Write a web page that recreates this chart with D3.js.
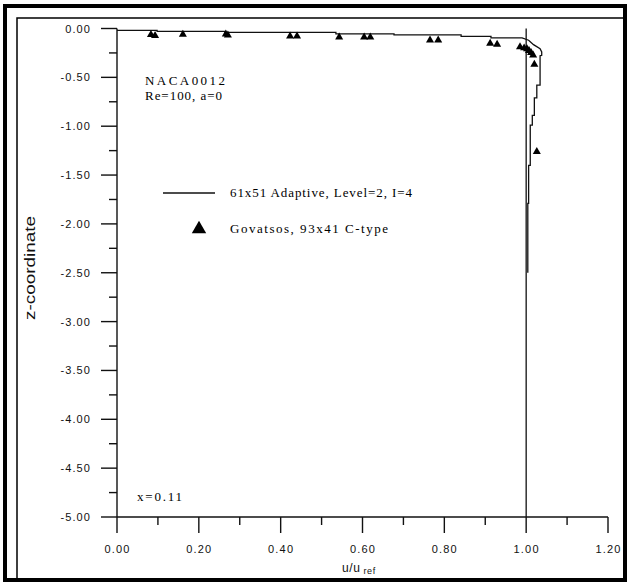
<!DOCTYPE html>
<html>
<head>
<meta charset="utf-8">
<script src="https://cdn.jsdelivr.net/npm/d3@7"></script>
<style>
  html, body { margin: 0; padding: 0; background: #fff; }
  svg { display: block; }
</style>
</head>
<body>
<svg id="chart" width="631" height="586"></svg>
<script>
// ---- data ----
const xTicks = [0, 0.2, 0.4, 0.6, 0.8, 1.0, 1.2];
const xTickLabels = ["0.00", "0.20", "0.40", "0.60", "0.80", "1.00", "1.20"];
const yTicks = [0, -0.5, -1, -1.5, -2, -2.5, -3, -3.5, -4, -4.5, -5];
const yTickLabels = ["0.00", "-0.50", "-1.00", "-1.50", "-2.00", "-2.50", "-3.00", "-3.50", "-4.00", "-4.50", "-5.00"];

// 61x51 Adaptive, Level=2, I=4 (u, z)
const adaptiveU = [0.000, 0.098, 0.098, 0.264, 0.264, 0.535, 0.535, 0.677, 0.677, 0.841, 0.841, 0.914, 0.914, 0.990,
                   1.006, 1.018, 1.034, 1.038, 1.038, 1.034, 1.034, 1.026, 1.026, 1.020, 1.020, 1.015, 1.015, 1.010, 1.010, 1.006, 1.006, 1.004, 1.004];
const adaptiveZ = [-0.020, -0.020, -0.030, -0.030, -0.040, -0.040, -0.055, -0.055, -0.065, -0.065, -0.080, -0.080, -0.095, -0.095,
                   -0.120, -0.165, -0.207, -0.240, -0.275, -0.280, -0.580, -0.580, -0.710, -0.710, -0.890, -0.890, -0.990, -0.990, -1.400, -1.400, -1.790, -1.790, -2.500];

// Govatsos, 93x41 C-type (u, z)
const govU = [0.083, 0.093, 0.161, 0.266, 0.271, 0.423, 0.440, 0.543, 0.604, 0.619, 0.765, 0.785, 0.912, 0.929,
              0.985, 0.995, 1.002, 1.007, 1.012, 1.017, 1.020, 1.026];
const govZ = [-0.063, -0.073, -0.061, -0.058, -0.068, -0.079, -0.079, -0.089, -0.089, -0.089, -0.119, -0.119, -0.153, -0.163,
              -0.188, -0.200, -0.210, -0.227, -0.247, -0.272, -0.367, -1.260];

// reference line u = 1
const refU = [1.0, 1.0];
const refZ = [0.0, -5.0];

// ---- layout ----
const svg = d3.select("#chart");
const x = d3.scaleLinear().domain([0, 1.2]).range([117, 608]);
const y = d3.scaleLinear().domain([0, -5]).range([28.5, 517]);

// frames
svg.append("rect").attr("x", 5).attr("y", 6).attr("width", 620).attr("height", 574)
  .attr("fill", "none").attr("stroke", "#000").attr("stroke-width", 4);
svg.append("path").attr("d", "M17,580 V18 H625")
  .attr("fill", "none").attr("stroke", "#000").attr("stroke-width", 1.5);

const tickFont = "'Liberation Sans', Arial, sans-serif";
const serif = "'Liberation Serif', 'Times New Roman', serif";

// x axis
const xMinor = d3.range(0, 13).map(i => i * 0.1);
const xAxis = svg.append("g").attr("transform", `translate(0,${y(-5)})`);
xAxis.append("line").attr("x1", x(0)).attr("x2", x(1.2)).attr("stroke", "#111").attr("stroke-width", 1.4);
xAxis.selectAll("line.tk").data(xMinor).join("line").attr("class", "tk")
  .attr("x1", d => x(d)).attr("x2", d => x(d))
  .attr("y1", 0).attr("y2", (d, i) => i % 2 === 0 ? 16 : 8)
  .attr("stroke", "#111").attr("stroke-width", 1.4);
xAxis.selectAll("text").data(xTicks).join("text")
  .attr("x", d => x(d) + 0.5).attr("y", 36)
  .attr("text-anchor", "middle")
  .attr("font-family", tickFont).attr("font-size", 11).attr("fill", "#111")
  .attr("letter-spacing", 1.2)
  .text((d, i) => xTickLabels[i]);

// y axis
const yMinor = d3.range(0, 21).map(i => -i * 0.25);
const yAxis = svg.append("g").attr("transform", `translate(${x(0)},0)`);
yAxis.append("line").attr("y1", y(0)).attr("y2", y(-5)).attr("stroke", "#111").attr("stroke-width", 1.4);
yAxis.selectAll("line.tk").data(yMinor).join("line").attr("class", "tk")
  .attr("y1", d => y(d)).attr("y2", d => y(d))
  .attr("x1", 0).attr("x2", (d, i) => i % 2 === 0 ? -16 : -8)
  .attr("stroke", "#111").attr("stroke-width", 1.4);
yAxis.selectAll("text").data(yTicks).join("text")
  .attr("x", -26).attr("y", d => y(d) + 4)
  .attr("text-anchor", "end")
  .attr("font-family", tickFont).attr("font-size", 11).attr("fill", "#111")
  .attr("letter-spacing", 1.1)
  .text((d, i) => yTickLabels[i]);

// axis titles
const xt = svg.append("text").attr("x", 342).attr("y", 572)
  .attr("font-family", tickFont).attr("font-size", 12).attr("fill", "#111")
  .attr("letter-spacing", 0.6);
xt.append("tspan").text("u/u");
xt.append("tspan").attr("font-size", 9).attr("dx", 3).attr("dy", 2).text("ref");

svg.append("text").attr("transform", "translate(35,268) rotate(-90)")
  .attr("text-anchor", "middle")
  .attr("font-family", tickFont).attr("font-size", 14).attr("fill", "#111")
  .attr("textLength", 104).attr("lengthAdjust", "spacingAndGlyphs")
  .text("z-coordinate");

// reference line
const line = d3.line().x(d => x(d[0])).y(d => y(d[1]));
svg.append("path").datum(refU.map((u, i) => [u, refZ[i]]))
  .attr("d", line).attr("fill", "none").attr("stroke", "#111").attr("stroke-width", 1.3);

// adaptive line
svg.append("path").datum(adaptiveU.map((u, i) => [u, adaptiveZ[i]]))
  .attr("d", line).attr("fill", "none").attr("stroke", "#111").attr("stroke-width", 1.3);

// triangles
const tri = d3.symbol().type(d3.symbolTriangle).size(28);
svg.append("g").selectAll("path").data(govU.map((u, i) => [u, govZ[i]])).join("path")
  .attr("transform", d => `translate(${x(d[0])},${y(d[1])})`)
  .attr("d", tri).attr("fill", "#000");

// annotations
function label(tx, ty, str, len) {
  svg.append("text").attr("x", tx).attr("y", ty)
    .attr("font-family", serif).attr("font-size", 13).attr("fill", "#000")
    .attr("textLength", len).attr("lengthAdjust", "spacing")
    .text(str);
}
label(145, 85, "NACA0012", 80);
label(145, 100, "Re=100, a=0", 77);
label(137, 501, "x=0.11", 45);

// legend
svg.append("line").attr("x1", 163).attr("x2", 215).attr("y1", 193).attr("y2", 193)
  .attr("stroke", "#111").attr("stroke-width", 1.3);
label(230, 197, "61x51 Adaptive, Level=2, I=4", 182);
svg.append("path").attr("transform", "translate(199,229)")
  .attr("d", d3.symbol().type(d3.symbolTriangle).size(90)).attr("fill", "#000");
label(230, 233, "Govatsos, 93x41 C-type", 158);
</script>
</body>
</html>
